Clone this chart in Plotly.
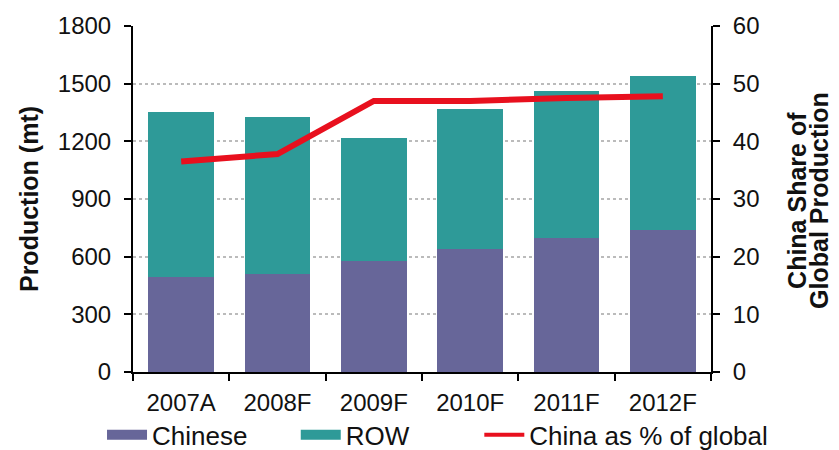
import plotly.graph_objects as go

years = ["2007A", "2008F", "2009F", "2010F", "2011F", "2012F"]
chinese = [495, 509, 576, 642, 698, 739]
row = [857, 817, 640, 724, 766, 803]
china_share = [36.5, 37.8, 47.0, 47.0, 47.5, 47.8]

left_ticks = [0, 300, 600, 900, 1200, 1500, 1800]
right_ticks = [0, 10, 20, 30, 40, 50, 60]

FONT = "Liberation Sans, Arial, sans-serif"
C_CN = "#676699"
C_ROW = "#2E9A98"
C_LINE = "#E8101E"
NB = "\u00a0"

fig = go.Figure()
fig.add_trace(go.Bar(x=years, y=chinese, name="Chinese", marker_color=C_CN,
                     marker_line_width=0, showlegend=False))
fig.add_trace(go.Bar(x=years, y=row, name="ROW", marker_color=C_ROW,
                     marker_line_width=0, showlegend=False))
fig.add_trace(go.Scatter(x=years, y=china_share, name="China as % of global",
                         yaxis="y2", mode="lines", showlegend=False,
                         line=dict(color=C_LINE, width=6)))
# legend entries (wide swatches like the reference)
fig.add_trace(go.Scatter(x=[None], y=[None], name="Chinese" + NB * 6, mode="lines",
                         line=dict(color=C_CN, width=20)))
fig.add_trace(go.Scatter(x=[None], y=[None], name="ROW" + NB * 9, mode="lines",
                         line=dict(color=C_ROW, width=20)))
fig.add_trace(go.Scatter(x=[None], y=[None], name="China as % of global", mode="lines",
                         line=dict(color=C_LINE, width=4)))

fig.update_layout(
    width=839, height=450,
    margin=dict(l=125, r=136, t=18, b=86, autoexpand=False),
    barmode="stack", bargap=0.32,
    plot_bgcolor="white", paper_bgcolor="white",
    font=dict(family=FONT, size=24, color="#111111"),
    showlegend=True,
    legend=dict(orientation="h", x=-0.0536, xanchor="left",
                y=-0.182, yanchor="middle", bgcolor="rgba(0,0,0,0)",
                font=dict(size=26), traceorder="normal", itemwidth=40,
                tracegroupgap=0),
    xaxis=dict(showline=True, linecolor="black", linewidth=2, automargin=False,
               ticks="outside", tickson="boundaries", ticklen=7, tickwidth=2,
               tickcolor="black", showgrid=False, ticklabelstandoff=8),
    yaxis=dict(range=[0, 1800], tickvals=left_ticks, showline=True, linecolor="black",
               linewidth=2, ticks="outside", ticklen=7, tickwidth=2, tickcolor="black",
               showgrid=True, gridcolor="#BBBBBB", griddash="dot", gridwidth=2,
               zeroline=False, automargin=False, ticklabelstandoff=8,
               title=dict(text="<b>Production (mt)</b>", font=dict(size=25), standoff=12)),
    yaxis2=dict(range=[0, 60], tickvals=right_ticks, overlaying="y", side="right",
                showline=True, linecolor="black", linewidth=2, ticks="outside",
                ticklen=7, tickwidth=2, tickcolor="black", showgrid=False, zeroline=False,
                automargin=False, ticklabelstandoff=8),
    annotations=[
        dict(text="<b>China Share of</b>", xref="paper", yref="paper", x=1.1486, y=0.497,
             xanchor="center", yanchor="middle", textangle=-90, showarrow=False,
             font=dict(size=25)),
        dict(text="<b>Global Production</b>", xref="paper", yref="paper", x=1.1866, y=0.497,
             xanchor="center", yanchor="middle", textangle=-90, showarrow=False,
             font=dict(size=25)),
    ],
)

fig.write_html("out.html")
